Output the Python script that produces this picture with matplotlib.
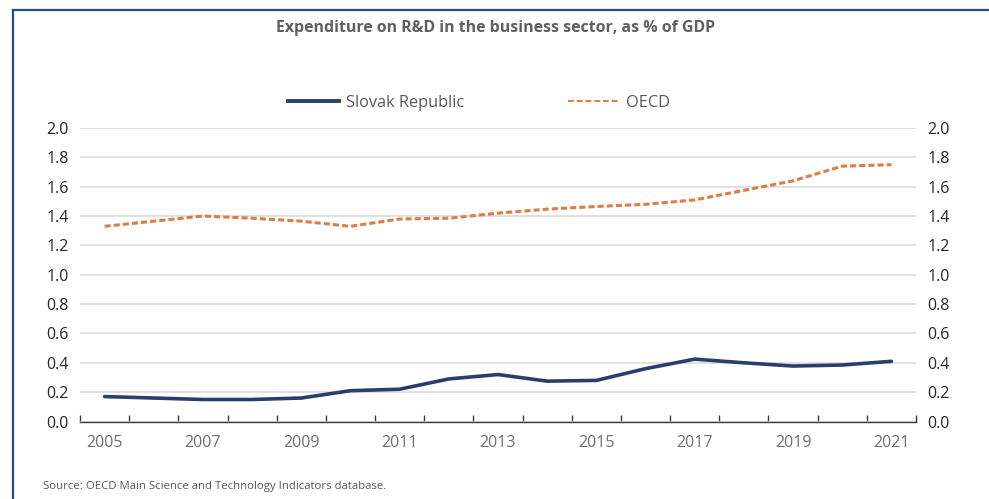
import matplotlib
matplotlib.use("Agg")
import matplotlib.pyplot as plt
from matplotlib.lines import Line2D
import numpy as np

years = list(range(2005, 2022))
slovak = [0.17, 0.16, 0.15, 0.15, 0.16, 0.21, 0.22, 0.29, 0.32, 0.275, 0.28,
          0.36, 0.425, 0.40, 0.378, 0.385, 0.41]
oecd = [1.33, 1.365, 1.40, 1.385, 1.365, 1.33, 1.38, 1.385, 1.42, 1.447, 1.465,
        1.48, 1.51, 1.575, 1.64, 1.74, 1.75]
yticks = [0.0, 0.2, 0.4, 0.6, 0.8, 1.0, 1.2, 1.4, 1.6, 1.8, 2.0]

plt.rcParams['font.family'] = ['Open Sans', 'DejaVu Sans']

W, H = 989, 499
fig = plt.figure(figsize=(W / 100, H / 100), dpi=100)
ax = fig.add_axes([80 / W, 1 - 421.5 / H, (916 - 80) / W, (421.5 - 128) / H])

x = np.arange(len(years))
navy = '#2B3E6B'
orange = '#E07B45'
ax.plot(x, slovak, color=navy, lw=2.6, solid_capstyle='round', solid_joinstyle='round')
ax.plot(x, oecd, color=orange, lw=2.2, ls=(0, (2.0, 1.0)))

ax.set_xlim(-0.5, len(years) - 0.5)
ax.set_ylim(0, 2.0)
ax.set_yticks(yticks)
ax.set_yticklabels([f"{v:.1f}" for v in yticks])
ax.tick_params(axis='y', length=0, labelsize=11.5, labelcolor='#262626', pad=8,
               labelright=True, right=False)
ax.grid(axis='y', color='#DCDCDC', lw=1.2)
ax.set_axisbelow(True)
for s in ['top', 'left', 'right']:
    ax.spines[s].set_visible(False)
ax.spines['bottom'].set_color('#3a3a3a')
ax.spines['bottom'].set_linewidth(1.0)

ax.set_xticks(np.arange(-0.5, len(years), 1.0))
ax.set_xticklabels([])
ax.tick_params(axis='x', direction='in', length=5, color='#3a3a3a', width=1.0)
ax.set_xticks(x[::2], minor=True)
ax.set_xticklabels([str(y) for y in years[::2]], minor=True)
ax.tick_params(axis='x', which='minor', length=0, labelsize=11.5, labelcolor='#6E6E6E', pad=10)

fig.text(496 / W, 1 - 28 / H, 'Expenditure on R&D in the business sector, as % of GDP',
         ha='center', va='center', fontsize=11.4, fontweight='bold', color='#5F5F5F')

handles = [Line2D([], [], color=navy, lw=2.8),
           Line2D([], [], color=orange, lw=1.4, ls=(0, (3.0, 1.5)))]
fig.legend(handles, ['Slovak Republic', 'OECD'], loc='center', bbox_to_anchor=(479 / W, 1 - 103 / H),
           ncol=2, frameon=False, fontsize=11.8, handlelength=3.1, columnspacing=6.3,
           handletextpad=0.45, labelcolor='#595959')

fig.text(43 / W, 1 - 487 / H, 'Source: OECD Main Science and Technology Indicators database.',
         ha='left', va='center', fontsize=8.2, color='#595959')

# frame border
fig.add_artist(Line2D([13 / W, 1], [1 - 10 / H, 1 - 10 / H], color='#2E4A7D', lw=1.6,
                      transform=fig.transFigure))
fig.add_artist(Line2D([13 / W, 13 / W], [0, 1 - 10 / H], color='#2E4A7D', lw=1.6,
                      transform=fig.transFigure))

fig.savefig('out.png', dpi=100)
